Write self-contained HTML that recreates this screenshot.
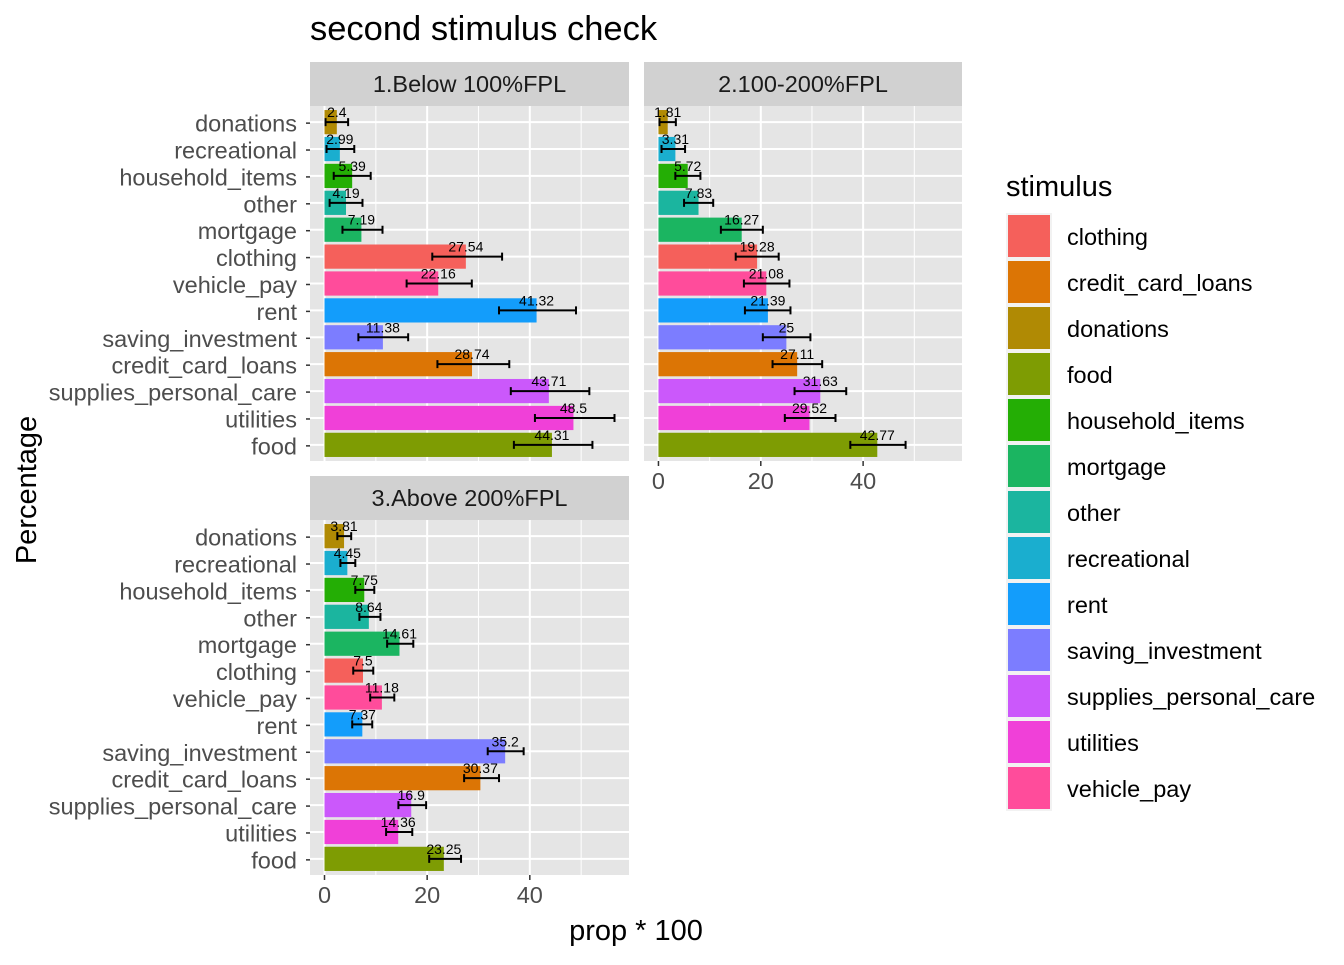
<!DOCTYPE html>
<html><head><meta charset="utf-8"><style>
body{margin:0;background:#fff}
svg text{font-family:"Liberation Sans",Arial,sans-serif}
</style></head><body>
<svg id="chart" width="1344" height="960" xmlns="http://www.w3.org/2000/svg"></svg>
<script>
const categories=["donations","recreational","household_items","other","mortgage","clothing","vehicle_pay","rent","saving_investment","credit_card_loans","supplies_personal_care","utilities","food"];
const panelTitles=["1.Below 100%FPL","2.100-200%FPL","3.Above 200%FPL"];
const values1=[2.4,2.99,5.39,4.19,7.19,27.54,22.16,41.32,11.38,28.74,43.71,48.5,44.31];
const lower1=[0.2,0.4,1.8,1.0,3.5,21.0,16.0,34.0,6.6,22.0,36.3,41.0,36.9];
const upper1=[4.6,5.8,9.0,7.4,11.3,34.6,28.7,49.0,16.3,36.0,51.6,56.5,52.2];
const values2=[1.81,3.31,5.72,7.83,16.27,19.28,21.08,21.39,25,27.11,31.63,29.52,42.77];
const lower2=[0.2,0.6,3.3,5.0,12.2,15.1,16.7,16.9,20.4,22.3,26.6,24.7,37.5];
const upper2=[3.4,5.2,8.2,10.7,20.4,23.5,25.6,25.8,29.7,32.0,36.7,34.6,48.3];
const values3=[3.81,4.45,7.75,8.64,14.61,7.5,11.18,7.37,35.2,30.37,16.9,14.36,23.25];
const lower3=[2.5,3.1,6.0,6.8,12.2,5.6,8.9,5.4,31.8,27.2,14.4,12.0,20.4];
const upper3=[5.2,6.0,9.7,10.9,17.3,9.5,13.6,9.3,38.8,34.0,19.8,17.1,26.6];
const xTicks=[0,20,40];
const legendItems=["clothing","credit_card_loans","donations","food","household_items","mortgage","other","recreational","rent","saving_investment","supplies_personal_care","utilities","vehicle_pay"];
const colors={clothing:"#F5605B",credit_card_loans:"#DC7505",donations:"#B08A04",food:"#7E9C03",household_items:"#24AE05",mortgage:"#1BB561",other:"#1BB59F",recreational:"#1AAECF",rent:"#139DFB",saving_investment:"#7C7DFF",supplies_personal_care:"#CB58FB",utilities:"#F040D8",vehicle_pay:"#FF4C9B"};

const NS="http://www.w3.org/2000/svg";
const svg=document.getElementById("chart");
function el(tag,attrs,parent,text){const e=document.createElementNS(NS,tag);for(const k in attrs)e.setAttribute(k,attrs[k]);if(text!==undefined)e.textContent=text;(parent||svg).appendChild(e);return e;}

const allUpper=upper1.concat(upper2,upper3);
const xmaxData=Math.max(...allUpper),xminData=0;
const span=xmaxData-xminData;
const XMIN=xminData-0.05*span, XMAX=xmaxData+0.05*span;

const panels=[
 {x0:310,x1:629,y0:106,y1:461,sy:62,v:values1,lo:lower1,hi:upper1,yl:true,xa:false},
 {x0:644,x1:962,y0:106,y1:461,sy:62,v:values2,lo:lower2,hi:upper2,yl:false,xa:true},
 {x0:310,x1:629,y0:520,y1:875,sy:476,v:values3,lo:lower3,hi:upper3,yl:true,xa:true}
];

let t=el("text",{x:310,y:40,"font-size":"34.5",fill:"#000"},svg,"second stimulus check");


panels.forEach((p,pi)=>{
 const g=el("g",{});
 
 
 const xs=v=>p.x0+(v-XMIN)/(XMAX-XMIN)*(p.x1-p.x0);
 const n=categories.length;
 const step=(p.y1-p.y0)/(n-1+1.2);
 const ys=i=>p.y0+(0.6+i)*step;
 const strip=el("rect",{x:p.x0,y:p.sy,width:p.x1-p.x0,height:p.y0-p.sy,fill:"#D1D1D1"},g);
 
 const st=el("text",{x:(p.x0+p.x1)/2,y:p.sy+30,"font-size":"23.5","text-anchor":"middle",fill:"#1A1A1A"},g,panelTitles[pi]);
 
 const bg=el("rect",{x:p.x0,y:p.y0,width:p.x1-p.x0,height:p.y1-p.y0,fill:"#E5E5E5"},g);
 
 for(let m=10;m<XMAX;m+=20){el("line",{x1:xs(m),x2:xs(m),y1:p.y0,y2:p.y1,stroke:"#fff","stroke-width":1},g);}
 xTicks.forEach(tk=>{el("line",{x1:xs(tk),x2:xs(tk),y1:p.y0,y2:p.y1,stroke:"#fff","stroke-width":2},g);});
 categories.forEach((c,i)=>{el("line",{x1:p.x0,x2:p.x1,y1:ys(i),y2:ys(i),stroke:"#fff","stroke-width":2},g);});
 categories.forEach((c,i)=>{
  const y=ys(i),h=step*0.9;
  const b=el("rect",{x:xs(0),y:y-h/2,width:xs(p.v[i])-xs(0),height:h,fill:colors[c]},g);
  
  const eb=el("path",{d:`M${xs(p.lo[i])},${y}H${xs(p.hi[i])}M${xs(p.lo[i])},${y-4}V${y+4}M${xs(p.hi[i])},${y-4}V${y+4}`,stroke:"#000","stroke-width":2,fill:"none"},g);
  
  const lb=el("text",{x:xs(p.v[i]),y:y-5,"font-size":"14","text-anchor":"middle",fill:"#000"},g,String(p.v[i]));
  
  if(p.yl){
   el("line",{x1:p.x0-4,x2:p.x0,y1:y+1,y2:y+1,stroke:"#333","stroke-width":1.5},g);
   const yl=el("text",{x:p.x0-13,y:y+9.5,"font-size":"23.5","text-anchor":"end",fill:"#4D4D4D"},g,c);
   
  }
 });
 if(p.xa){
  xTicks.forEach(tk=>{
   el("line",{x1:xs(tk),x2:xs(tk),y1:p.y1,y2:p.y1+5,stroke:"#333","stroke-width":1.5},g);
   const xl=el("text",{x:xs(tk),y:p.y1+28,"font-size":"23.5","text-anchor":"middle",fill:"#4D4D4D"},g,String(tk));
   
  });
 }
});

t=el("text",{x:636,y:940,"font-size":"29","text-anchor":"middle",fill:"#000"},svg,"prop * 100");

t=el("text",{x:0,y:0,"font-size":"29","text-anchor":"middle",fill:"#000",transform:"translate(36,490) rotate(-90)"},svg,"Percentage");


const lg=el("g",{});

t=el("text",{x:1006,y:196,"font-size":"29",fill:"#000"},lg,"stimulus");

legendItems.forEach((c,i)=>{
 const y=213+i*46;
 const e=el("g",{},lg);
 
 el("rect",{x:1006,y:y,width:46,height:46,fill:"#F2F2F2"},e);
 el("rect",{x:1008,y:y+2,width:42,height:42,fill:colors[c]},e);
 el("text",{x:1067,y:y+32,"font-size":"23.5",fill:"#000"},e,c);
});
</script>
</body></html>
